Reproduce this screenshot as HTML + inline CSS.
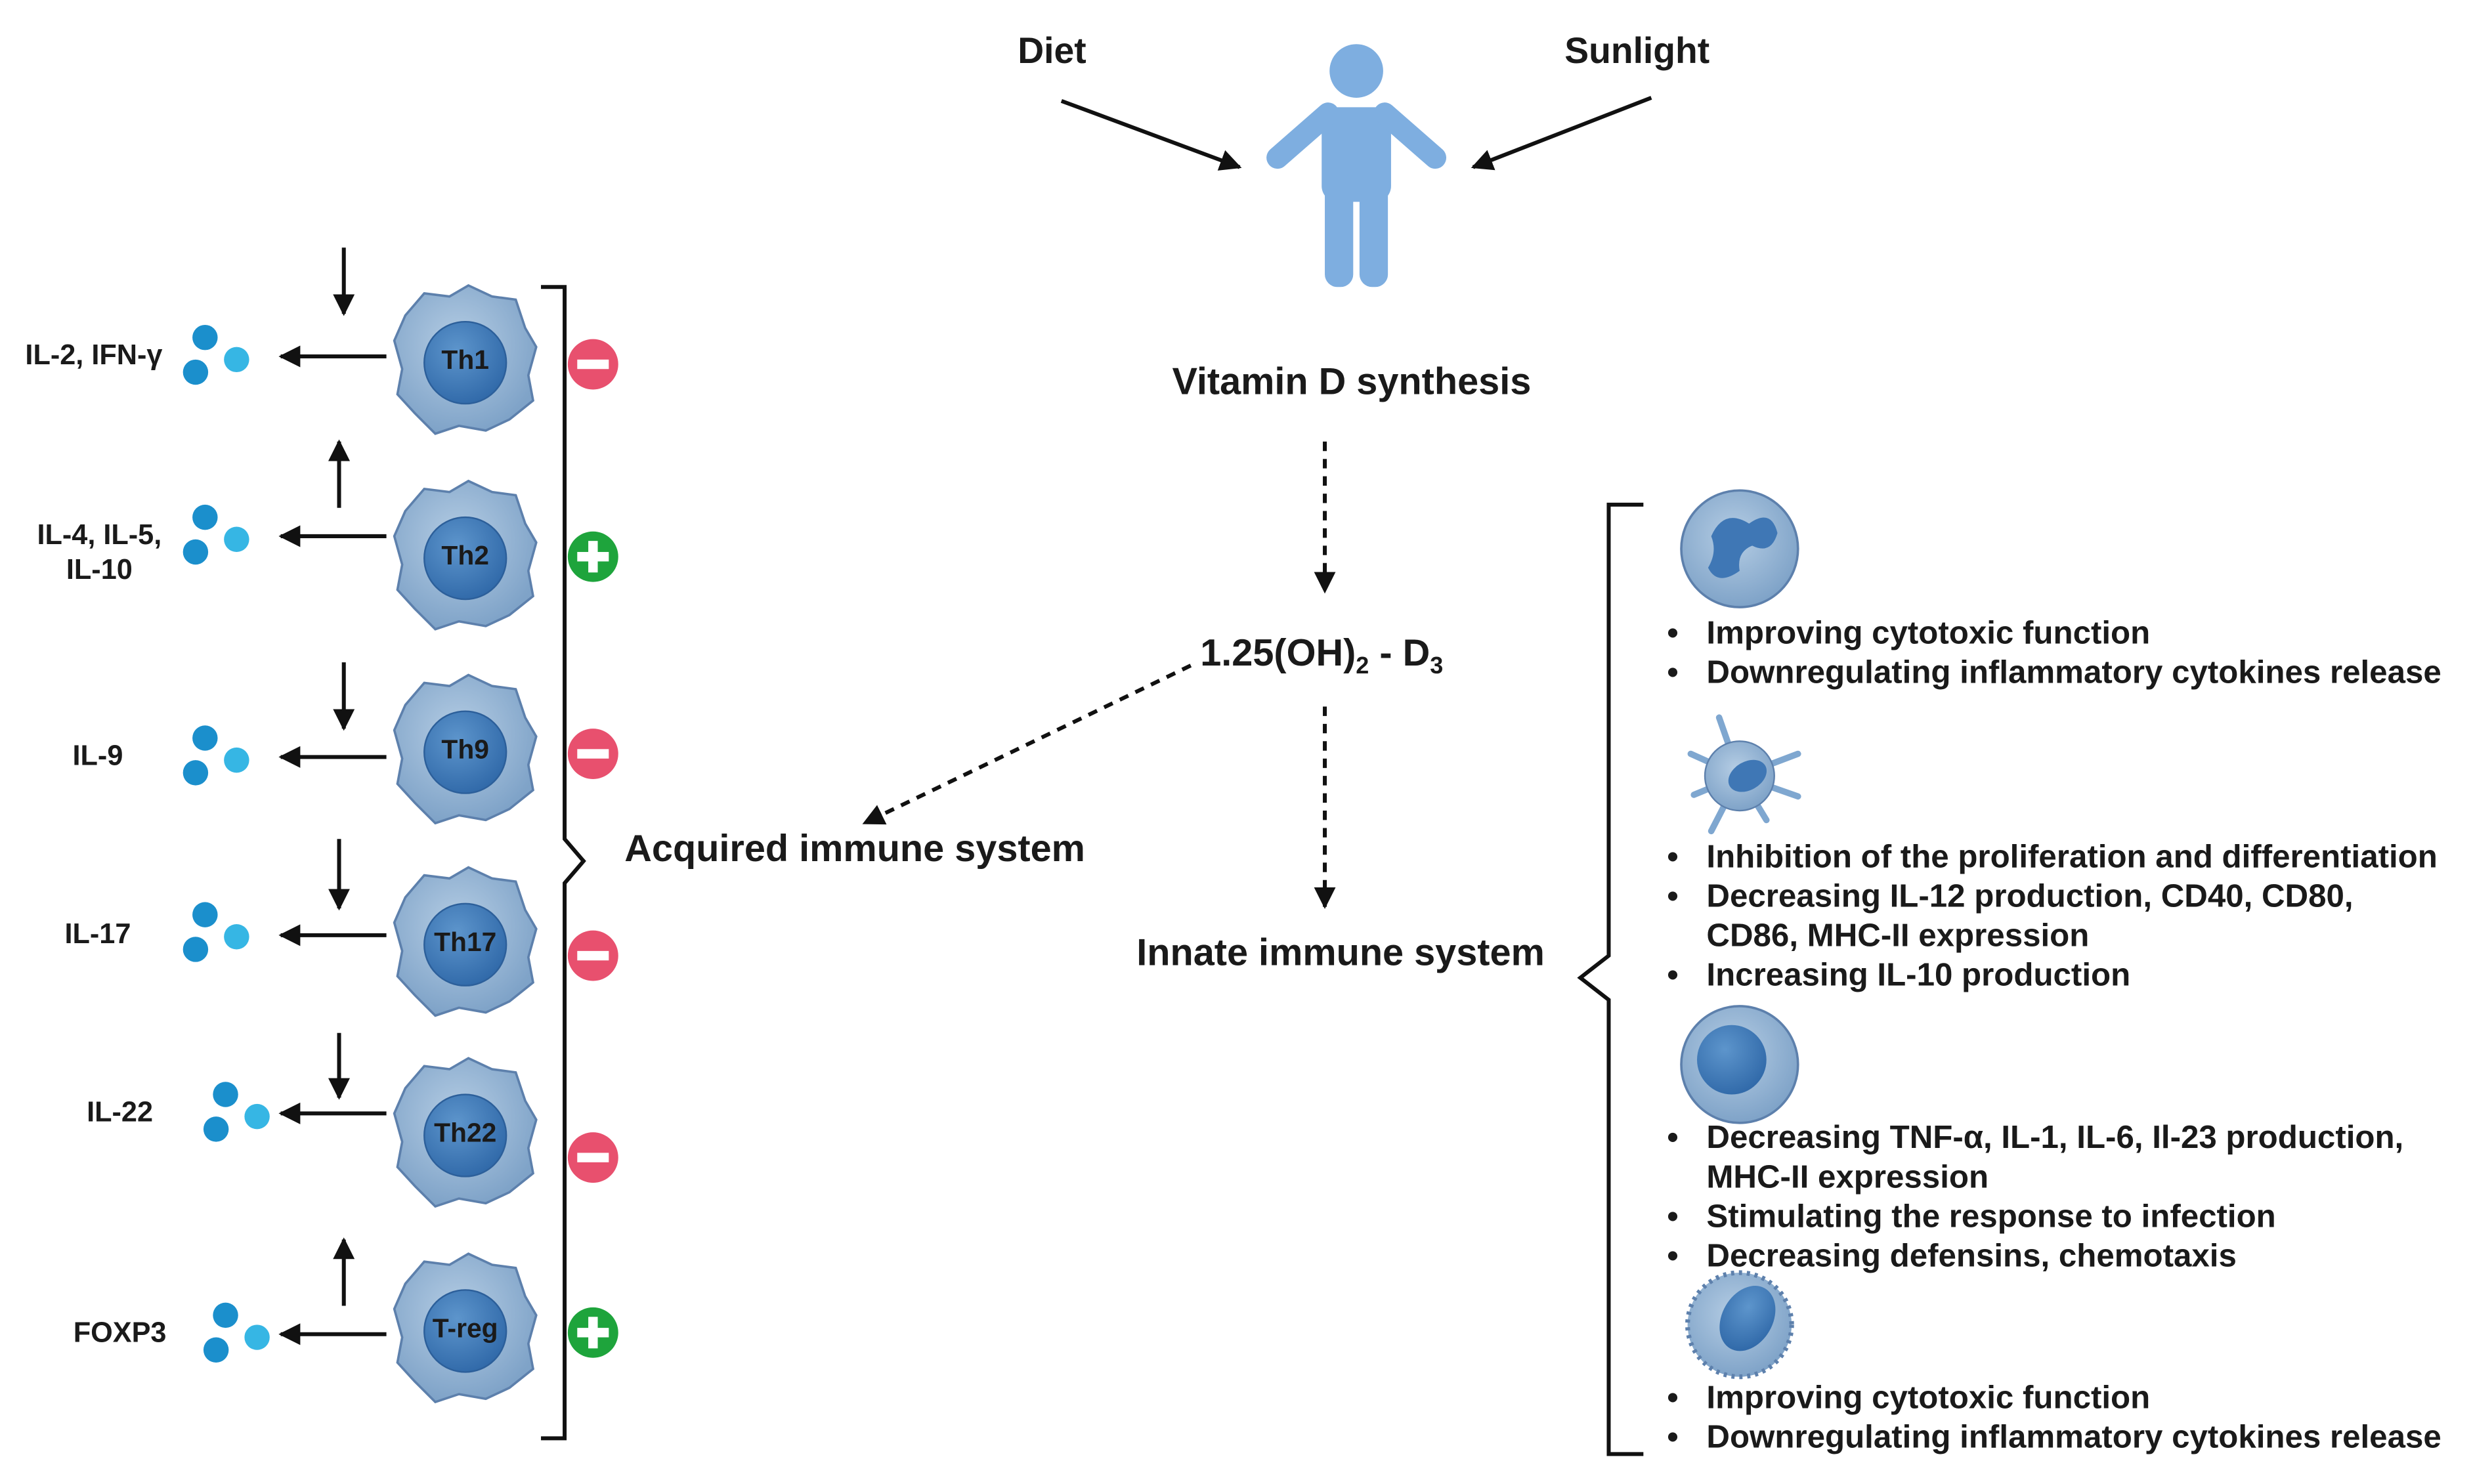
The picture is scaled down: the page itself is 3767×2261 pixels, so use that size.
<!DOCTYPE html>
<html><head><meta charset="utf-8"><style>
html,body{margin:0;padding:0;background:#fff;}
svg{display:block;}
text{font-family:"Liberation Sans",sans-serif;font-weight:bold;fill:#1a1a1a;}
</style></head><body>
<svg width="3767" height="2261" viewBox="0 0 1568 941" preserveAspectRatio="none" xmlns="http://www.w3.org/2000/svg">
<defs>
<marker id="ah" viewBox="0 0 10 10" refX="9" refY="5" markerWidth="5.5" markerHeight="5.5" orient="auto"><path d="M0,0L10,5L0,10z" fill="#111"/></marker>
<radialGradient id="cg" cx="45%" cy="40%" r="60%"><stop offset="0" stop-color="#b5cde4"/><stop offset="1" stop-color="#7fa3c8"/></radialGradient>
<radialGradient id="ng" cx="40%" cy="35%" r="70%"><stop offset="0" stop-color="#5d95cc"/><stop offset="1" stop-color="#2f68a8"/></radialGradient>
<g id="tcell">
<path d="M-38,-28 L-26,-42 L-10,-40 L2,-47 L17,-40 L32,-38 L38,-20 L45,-8 L40,10 L43,26 L28,38 L13,45 L-4,42 L-19,47 L-32,34 L-43,22 L-40,6 L-45,-12 Z" fill="url(#cg)" stroke="#5d80ac" stroke-width="1.5"/>
<circle r="26" cx="0" cy="2" fill="url(#ng)" stroke="#2c5f9a"/>
</g>
<g id="dots"><circle cx="0" cy="-12" r="8" fill="#1b8fcc"/><circle cx="-6" cy="10" r="8" fill="#1b8fcc"/><circle cx="20" cy="2" r="8" fill="#36b6e4"/></g>
</defs>

<g fill="#7eaee0">
<circle cx="860" cy="45" r="17"/>
<rect x="838" y="68" width="44" height="60" rx="10"/>
<rect x="840" y="110" width="18" height="72" rx="8"/>
<rect x="862" y="110" width="18" height="72" rx="8"/>
<path d="M842,72 L810,100" stroke="#7eaee0" stroke-width="14" stroke-linecap="round"/>
<path d="M878,72 L910,100" stroke="#7eaee0" stroke-width="14" stroke-linecap="round"/>
</g>
<text x="667" y="40" font-size="23" text-anchor="middle">Diet</text>
<text x="1038" y="40" font-size="23" text-anchor="middle">Sunlight</text>
<line x1="673" y1="64" x2="786" y2="106" stroke="#111" stroke-width="2.5" marker-end="url(#ah)"/>
<line x1="1047" y1="62" x2="934" y2="106" stroke="#111" stroke-width="2.5" marker-end="url(#ah)"/>
<text x="857" y="250" font-size="24" text-anchor="middle">Vitamin D synthesis</text>
<line x1="840" y1="280" x2="840" y2="375" stroke="#111" stroke-width="2.5" stroke-dasharray="6,5" marker-end="url(#ah)"/>
<text x="838" y="422" font-size="24" text-anchor="middle">1.25(OH)<tspan font-size="15" dy="5">2</tspan><tspan dy="-5"> - D</tspan><tspan font-size="15" dy="5">3</tspan></text>
<line x1="755" y1="422" x2="548" y2="522" stroke="#111" stroke-width="2.5" stroke-dasharray="6,5" marker-end="url(#ah)"/>
<line x1="840" y1="448" x2="840" y2="575" stroke="#111" stroke-width="2.5" stroke-dasharray="6,5" marker-end="url(#ah)"/>
<text x="542" y="546" font-size="24" text-anchor="middle">Acquired immune system</text>
<text x="850" y="612" font-size="24" text-anchor="middle">Innate immune system</text>

<path d="M343,182 H358 V532 L370,546 L358,560 V912 H343" fill="none" stroke="#111" stroke-width="2.5"/>
<path d="M1042,320 H1020 V606 L1002,620 L1020,634 V922 H1042" fill="none" stroke="#111" stroke-width="2.5"/>

<g>
<use href="#tcell" x="295" y="228"/><text x="295" y="234" font-size="17" text-anchor="middle">Th1</text>
<use href="#tcell" x="295" y="352"/><text x="295" y="358" font-size="17" text-anchor="middle">Th2</text>
<use href="#tcell" x="295" y="475"/><text x="295" y="481" font-size="17" text-anchor="middle">Th9</text>
<use href="#tcell" x="295" y="597"/><text x="295" y="603" font-size="17" text-anchor="middle">Th17</text>
<use href="#tcell" x="295" y="718"/><text x="295" y="724" font-size="17" text-anchor="middle">Th22</text>
<use href="#tcell" x="295" y="842"/><text x="295" y="848" font-size="17" text-anchor="middle">T-reg</text>
</g>
<use href="#dots" x="130" y="226"/>
<use href="#dots" x="130" y="340"/>
<use href="#dots" x="130" y="480"/>
<use href="#dots" x="130" y="592"/>
<use href="#dots" x="143" y="706"/>
<use href="#dots" x="143" y="846"/>
<g stroke="#111" stroke-width="2.5" marker-end="url(#ah)">
<line x1="245" y1="226" x2="178" y2="226"/>
<line x1="245" y1="340" x2="178" y2="340"/>
<line x1="245" y1="480" x2="178" y2="480"/>
<line x1="245" y1="593" x2="178" y2="593"/>
<line x1="245" y1="706" x2="178" y2="706"/>
<line x1="245" y1="846" x2="178" y2="846"/>
<line x1="218" y1="157" x2="218" y2="199"/>
<line x1="215" y1="322" x2="215" y2="280"/>
<line x1="218" y1="420" x2="218" y2="462"/>
<line x1="215" y1="532" x2="215" y2="576"/>
<line x1="215" y1="655" x2="215" y2="696"/>
<line x1="218" y1="828" x2="218" y2="786"/>
</g>
<g font-size="18">
<text x="16" y="231">IL-2, IFN-γ</text>
<text x="63" y="345" text-anchor="middle">IL-4, IL-5,</text>
<text x="63" y="367" text-anchor="middle">IL-10</text>
<text x="62" y="485" text-anchor="middle">IL-9</text>
<text x="62" y="598" text-anchor="middle">IL-17</text>
<text x="76" y="711" text-anchor="middle">IL-22</text>
<text x="76" y="851" text-anchor="middle">FOXP3</text>
</g>
<g>
<circle cx="376" cy="231" r="16" fill="#e8506e"/><rect x="366" y="228" width="20" height="6" fill="#fff"/>
<circle cx="376" cy="353" r="16" fill="#1ea43c"/><rect x="366" y="350" width="20" height="6" fill="#fff"/><rect x="373" y="343" width="6" height="20" fill="#fff"/>
<circle cx="376" cy="478" r="16" fill="#e8506e"/><rect x="366" y="475" width="20" height="6" fill="#fff"/>
<circle cx="376" cy="606" r="16" fill="#e8506e"/><rect x="366" y="603" width="20" height="6" fill="#fff"/>
<circle cx="376" cy="734" r="16" fill="#e8506e"/><rect x="366" y="731" width="20" height="6" fill="#fff"/>
<circle cx="376" cy="845" r="16" fill="#1ea43c"/><rect x="366" y="842" width="20" height="6" fill="#fff"/><rect x="373" y="835" width="6" height="20" fill="#fff"/>
</g>

<g>
<circle cx="1103" cy="348" r="37" fill="url(#cg)" stroke="#5d80ac" stroke-width="1.5"/>
<path d="M1085,340 q8,-18 24,-8 q14,-10 18,6 q-4,14 -16,8 q-10,4 -8,16 q-14,10 -20,-2 q6,-10 2,-20z" fill="#3f77b5"/>
<g stroke="#7fa7d0" stroke-width="4" stroke-linecap="round">
<line x1="1103" y1="492" x2="1090" y2="455"/><line x1="1103" y1="492" x2="1140" y2="478"/><line x1="1103" y1="492" x2="1072" y2="478"/><line x1="1103" y1="492" x2="1140" y2="505"/><line x1="1103" y1="492" x2="1085" y2="527"/><line x1="1103" y1="492" x2="1120" y2="520"/><line x1="1103" y1="492" x2="1074" y2="504"/>
</g>
<circle cx="1103" cy="492" r="22" fill="url(#cg)" stroke="#5d80ac"/>
<ellipse cx="1108" cy="492" rx="13" ry="9" transform="rotate(-30 1108 492)" fill="#3f77b5"/>
<circle cx="1103" cy="675" r="37" fill="url(#cg)" stroke="#5d80ac" stroke-width="1.5"/>
<circle cx="1098" cy="672" r="22" fill="url(#ng)"/>
<circle cx="1103" cy="840" r="33" fill="url(#cg)" stroke="#5d80ac" stroke-width="3" stroke-dasharray="2,3"/>
<ellipse cx="1108" cy="836" rx="16" ry="22" transform="rotate(30 1108 836)" fill="url(#ng)"/>
</g>
<g font-size="20.5">
<text x="1057" y="408">•</text><text x="1082" y="408">Improving cytotoxic function</text>
<text x="1057" y="433">•</text><text x="1082" y="433">Downregulating inflammatory cytokines release</text>
<text x="1057" y="550">•</text><text x="1082" y="550">Inhibition of the proliferation and differentiation</text>
<text x="1057" y="575">•</text><text x="1082" y="575">Decreasing IL-12 production, CD40, CD80,</text>
<text x="1082" y="600">CD86, MHC-II expression</text>
<text x="1057" y="625">•</text><text x="1082" y="625">Increasing IL-10 production</text>
<text x="1057" y="728">•</text><text x="1082" y="728">Decreasing TNF-α, IL-1, IL-6, Il-23 production,</text>
<text x="1082" y="753">MHC-II expression</text>
<text x="1057" y="778">•</text><text x="1082" y="778">Stimulating the response to infection</text>
<text x="1057" y="803">•</text><text x="1082" y="803">Decreasing defensins, chemotaxis</text>
<text x="1057" y="893">•</text><text x="1082" y="893">Improving cytotoxic function</text>
<text x="1057" y="918">•</text><text x="1082" y="918">Downregulating inflammatory cytokines release</text>
</g>
</svg>
</body></html>
